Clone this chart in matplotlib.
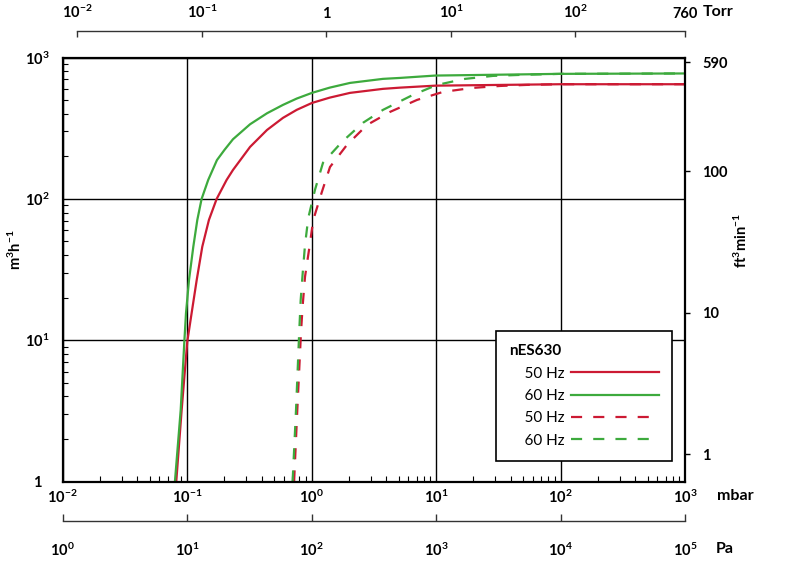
import matplotlib
matplotlib.use("Agg")
import matplotlib.pyplot as plt
from matplotlib.ticker import NullLocator, LogLocator, NullFormatter
from matplotlib.lines import Line2D

plt.rcParams['font.family'] = ['Lato', 'DejaVu Sans']
plt.rcParams['mathtext.fontset'] = 'custom'
plt.rcParams['mathtext.rm'] = 'Lato'
plt.rcParams['mathtext.bf'] = 'Lato:bold'
plt.rcParams['mathtext.it'] = 'Lato:italic'

# ---------------- data (pressure in mbar, pumping speed in m3/h) ----------------
p_50_solid = [0.082, 0.0906, 0.1005, 0.109, 0.1197, 0.1327, 0.150, 0.173, 0.208, 0.234,
              0.321, 0.439, 0.590, 0.76, 1.009, 1.4, 2.04, 3.75, 5.14, 9.82, 99, 1000]
s_50_solid = [1.0, 3.21, 9.76, 15.6, 26.7, 45.9, 70.9, 99.8, 136, 160,
              233, 307, 374, 426, 477, 520, 562, 600, 612, 632, 647, 647]

p_60_solid = [0.080, 0.0890, 0.0952, 0.0982, 0.1038, 0.1124, 0.121, 0.131, 0.148, 0.174,
              0.200, 0.234, 0.321, 0.439, 0.590, 0.76, 1.009, 1.4, 2.04, 3.75, 5.14, 9.82,
              99, 1000]
s_60_solid = [1.0, 3.21, 9.76, 15.6, 26.7, 45.9, 70.9, 99.8, 136, 188,
              222, 264, 337, 403, 462, 512, 562, 612, 661, 706, 717, 745,
              766, 771]

p_50_dash = [0.725, 0.769, 0.824, 0.850, 0.887, 0.960, 1.033, 1.208, 1.408, 1.928,
             2.79, 4.27, 7.04, 11.4, 19.5, 32.7, 53.8, 99, 1000]
s_50_dash = [1.0, 3.21, 11.5, 17.7, 28.1, 44.9, 70.9, 111, 168, 241,
             333, 412, 501, 571, 609, 629, 640, 647, 647]

p_60_dash = [0.705, 0.751, 0.798, 0.819, 0.850, 0.887, 0.942, 1.067, 1.237, 1.758,
             2.59, 3.75, 6.53, 10.2, 17.1, 28.7, 47.3, 99, 1000]
s_60_dash = [1.0, 3.21, 11.8, 19.3, 29.9, 47.2, 73.3, 116, 180, 253,
             345, 426, 544, 640, 706, 741, 753, 766, 771]

legend_title = "nES630"
legend_labels = ["50 Hz", "60 Hz", "50 Hz", "60 Hz"]

mbar_ticks = [1e-2, 1e-1, 1e0, 1e1, 1e2, 1e3]
mbar_labels = [r'$\mathbf{10^{-2}}$', r'$\mathbf{10^{-1}}$', r'$\mathbf{10^{0}}$',
               r'$\mathbf{10^{1}}$', r'$\mathbf{10^{2}}$', r'$\mathbf{10^{3}}$']
torr_ticks = [1e-2, 1e-1, 1, 10, 100, 760]
torr_labels = [r'$\mathbf{10^{-2}}$', r'$\mathbf{10^{-1}}$', '1',
               r'$\mathbf{10^{1}}$', r'$\mathbf{10^{2}}$', '760']
pa_ticks = [1e0, 1e1, 1e2, 1e3, 1e4, 1e5]
pa_labels = [r'$\mathbf{10^{0}}$', r'$\mathbf{10^{1}}$', r'$\mathbf{10^{2}}$',
             r'$\mathbf{10^{3}}$', r'$\mathbf{10^{4}}$', r'$\mathbf{10^{5}}$']
m3h_ticks = [1, 10, 100, 1000]
m3h_labels = ['1', r'$\mathbf{10^{1}}$', r'$\mathbf{10^{2}}$', r'$\mathbf{10^{3}}$']
cfm_ticks = [1, 10, 100, 590]
cfm_labels = ['1', '10', '100', '590']

RED = '#cc1a33'
GREEN = '#3daa3d'
FS = 10.5
FS_UNIT = 11.5

# ---------------- figure ----------------
W_PX, H_PX = 800, 567
fig = plt.figure(figsize=(8.0, 5.67), dpi=100)
L = 62.5 / W_PX
Wd = 622.5 / W_PX
B = 1 - 481.5 / H_PX
Hd = 424 / H_PX
ax = fig.add_axes([L, B, Wd, Hd])

ax.set_xscale('log')
ax.set_yscale('log')
ax.set_xlim(1e-2, 1e3)
ax.set_ylim(1, 1e3)

lw = 1.6
ax.plot(p_50_solid, s_50_solid, color=RED, lw=lw, solid_joinstyle='round')
ax.plot(p_60_solid, s_60_solid, color=GREEN, lw=lw, solid_joinstyle='round')
ax.plot(p_50_dash, s_50_dash, color=RED, lw=lw, linestyle=(0, (5, 5)))
ax.plot(p_60_dash, s_60_dash, color=GREEN, lw=lw, linestyle=(0, (5, 5)))

ax.grid(True, which='major', color='black', lw=1.0)
for s in ax.spines.values():
    s.set_linewidth(1.6)
    s.set_color('black')

ax.set_xticks(mbar_ticks, mbar_labels)
ax.xaxis.set_minor_locator(LogLocator(base=10, subs=range(2, 10), numticks=20))
ax.xaxis.set_minor_formatter(NullFormatter())
ax.tick_params(axis='x', which='major', direction='in', length=0, pad=5, labelsize=FS)
ax.tick_params(axis='x', which='minor', direction='in', length=4.3, width=0.8, top=False)

ax.set_yticks(m3h_ticks, m3h_labels)
ax.yaxis.set_minor_locator(LogLocator(base=10, subs=range(2, 10), numticks=20))
ax.yaxis.set_minor_formatter(NullFormatter())
ax.tick_params(axis='y', which='major', direction='in', length=0, pad=18, labelsize=FS)
ax.tick_params(axis='y', which='minor', direction='in', length=3.5, width=0.8, right=False)
for t in ax.get_yticklabels():
    t.set_horizontalalignment('center')
    t.set_fontweight('bold')

ax.text(-0.0763, 0.547, r'$\mathbf{m^{3}h^{-1}}$', transform=ax.transAxes,
        rotation=90, ha='center', va='center', fontsize=FS)

# right axis (ft3/min)
ax2 = ax.twinx()
ax2.set_yscale('log')
ax2.set_ylim(0.64, 640)
ax2.set_yticks(cfm_ticks, cfm_labels)
ax2.yaxis.set_minor_locator(NullLocator())
ax2.tick_params(axis='y', which='major', direction='out', length=3.6, width=1.0,
                pad=8.6, labelsize=FS)
for t in ax2.get_yticklabels():
    t.set_fontweight('bold')
for s in ax2.spines.values():
    s.set_visible(False)
ax.text(1.090, 0.568, r'$\mathbf{ft^{3}min^{-1}}$', transform=ax.transAxes,
        rotation=90, ha='center', va='center', fontsize=FS)

# legend
handles = [Line2D([], [], color=RED, lw=lw),
           Line2D([], [], color=GREEN, lw=lw),
           Line2D([], [], color=RED, lw=lw, linestyle=(0, (5, 5))),
           Line2D([], [], color=GREEN, lw=lw, linestyle=(0, (5, 5)))]
leg = ax.legend(handles, ['    ' + l for l in legend_labels], loc='upper left',
                bbox_to_anchor=(0.6964, 0.3545), borderaxespad=0,
                title=legend_title, title_fontproperties={'weight': 'bold', 'size': 11},
                alignment='left', markerfirst=False, handlelength=5.8,
                fontsize=11, frameon=True, fancybox=False, edgecolor='black',
                framealpha=1, labelspacing=0.55, borderpad=0.85, handletextpad=0.4)
leg.get_frame().set_linewidth(1.2)
leg.set_zorder(10)

# top Torr axis
axt = fig.add_axes([L, 1 - 31 / H_PX, Wd, 1e-5])
axt.set_xscale('log')
axt.set_xlim(7.6e-3, 760)
axt.patch.set_visible(False)
for k in ['top', 'left', 'right']:
    axt.spines[k].set_visible(False)
axt.spines['bottom'].set_bounds(1e-2, 760)
axt.spines['bottom'].set_linewidth(1.0)
axt.spines['bottom'].set_color('#333333')
axt.set_yticks([])
axt.set_xticks(torr_ticks, torr_labels)
axt.xaxis.set_minor_locator(NullLocator())
axt.tick_params(axis='x', which='major', direction='out', length=4.5, width=1.0,
                color='#333333', bottom=True, top=False, labelbottom=False,
                labeltop=True, pad=3.0, labelsize=FS)
for t in axt.get_xticklabels():
    t.set_fontweight('bold')
fig.text(718 / W_PX, 1 - 12 / H_PX, 'Torr', ha='center', va='center',
         fontsize=FS_UNIT, fontweight='bold')

# bottom Pa axis
axp = fig.add_axes([L, 1 - 520.7 / H_PX, Wd, 1e-5])
axp.set_xscale('log')
axp.set_xlim(1, 1e5)
axp.patch.set_visible(False)
for k in ['top', 'left', 'right']:
    axp.spines[k].set_visible(False)
axp.spines['bottom'].set_linewidth(1.0)
axp.spines['bottom'].set_color('#333333')
axp.set_yticks([])
axp.set_xticks(pa_ticks, pa_labels)
axp.xaxis.set_minor_locator(NullLocator())
axp.tick_params(axis='x', which='major', direction='in', length=5.3, width=1.0,
                color='#333333', pad=15, labelsize=FS)

fig.text(735 / W_PX, 1 - 496 / H_PX, 'mbar', ha='center', va='center',
         fontsize=FS_UNIT, fontweight='bold')
fig.text(725 / W_PX, 1 - 549 / H_PX, 'Pa', ha='center', va='center',
         fontsize=FS_UNIT, fontweight='bold')

fig.savefig('out.png', dpi=100, facecolor='white')
